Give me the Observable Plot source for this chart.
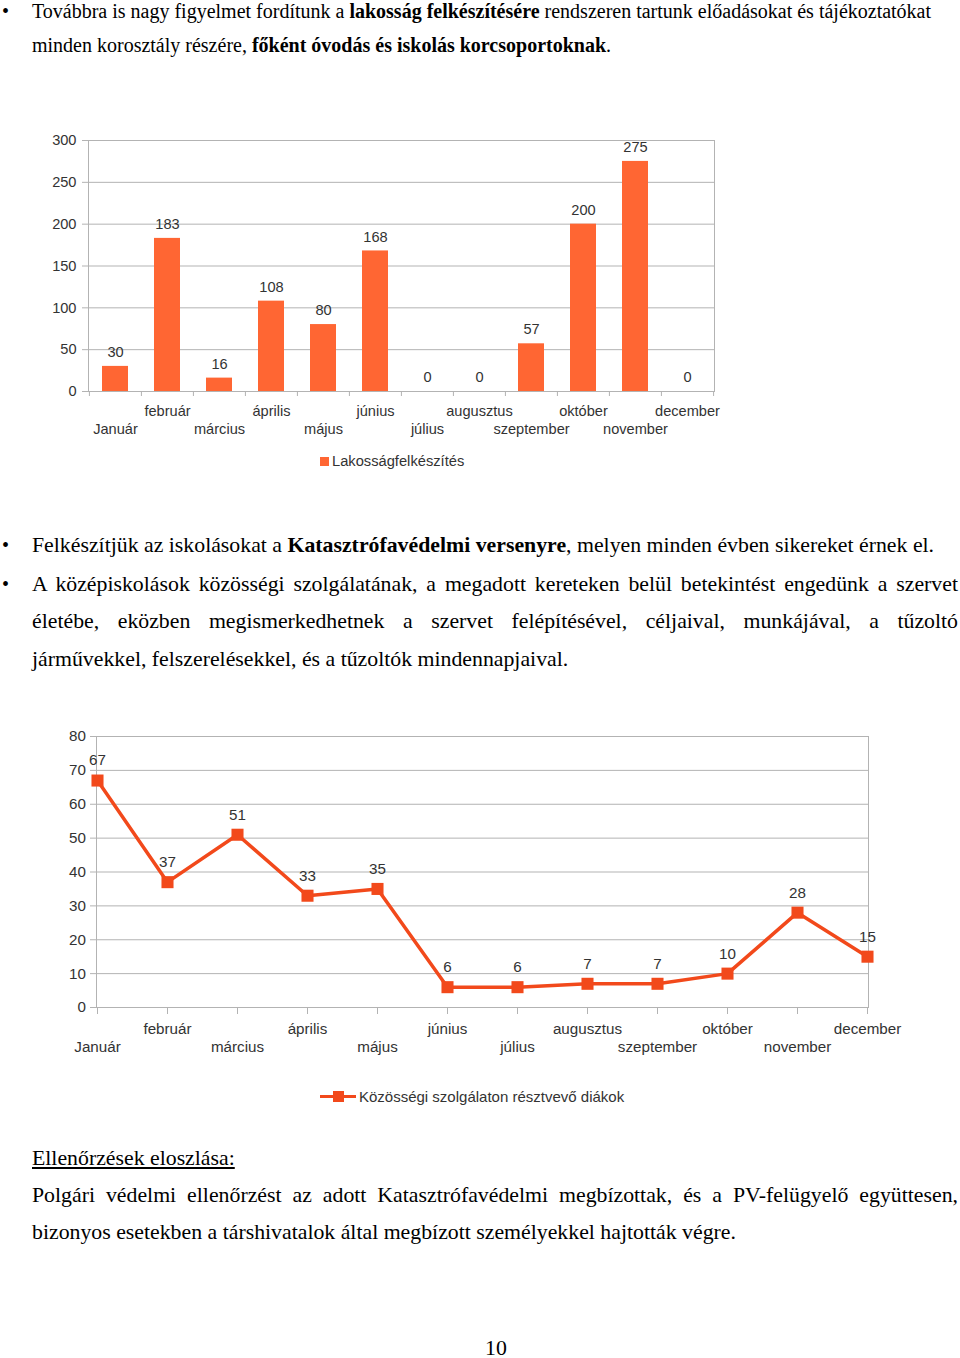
<!DOCTYPE html>
<html>
<head>
<meta charset="utf-8">
<script src="https://cdn.jsdelivr.net/npm/d3@7"></script>
<script src="https://cdn.jsdelivr.net/npm/@observablehq/plot@0.6"></script>
<style>
  html, body { margin: 0; padding: 0; background: #fff; }
  body { position: relative; width: 960px; height: 1358px; overflow: hidden; font-family: "Liberation Serif", "Times New Roman", serif; color: #000; }
  .ln { position: absolute; left: 32px; width: 926px; font-size: 20px; line-height: 22px; white-space: nowrap; }
  .big { font-size: 21.8px; }
  .just { text-align: justify; text-align-last: justify; white-space: normal; }
  .bul { position: absolute; left: 2px; font-size: 20px; line-height: 22px; }
  .chart { position: absolute; left: 0; }
  .legend { position: absolute; font-family: "Liberation Sans", Arial, sans-serif; color: #333; display: flex; align-items: center; white-space: nowrap; }
</style>
</head>
<body>
<div class="bul" style="top:0px">•</div>
<div class="ln" style="top:0px">Továbbra is nagy figyelmet fordítunk a <b>lakosság felkészítésére</b> rendszeren tartunk előadásokat és tájékoztatókat</div>
<div class="ln" style="top:34px">minden korosztály részére, <b>főként óvodás és iskolás korcsoportoknak</b>.</div>

<div id="chart1" class="chart" style="top:120px"></div>
<div id="legend1" class="legend" style="left:320px; top:453px; font-size:14.7px"></div>

<div class="bul" style="top:534px">•</div>
<div class="ln big" style="top:534px">Felkészítjük az iskolásokat a <b>Katasztrófavédelmi versenyre</b>, melyen minden évben sikereket érnek el.</div>
<div class="bul" style="top:573px">•</div>
<div class="ln big just" style="top:573px">A középiskolások közösségi szolgálatának, a megadott kereteken belül betekintést engedünk a szervet</div>
<div class="ln big just" style="top:610px">életébe, eközben megismerkedhetnek a szervet felépítésével, céljaival, munkájával, a tűzoltó</div>
<div class="ln big" style="top:648px">járművekkel, felszerelésekkel, és a tűzoltók mindennapjaival.</div>

<div id="chart2" class="chart" style="top:716px"></div>
<div id="legend2" class="legend" style="left:320px; top:1088px; font-size:15px"></div>

<div class="ln big" style="top:1147px"><u>Ellenőrzések eloszlása:</u></div>
<div class="ln big just" style="top:1184px">Polgári védelmi ellenőrzést az adott Katasztrófavédelmi megbízottak, és a PV-felügyelő együttesen,</div>
<div class="ln big" style="top:1221px">bizonyos esetekben a társhivatalok által megbízott személyekkel hajtották végre.</div>

<div class="ln big" style="top:1339px; left:485px; width:auto; line-height:18px">10</div>

<script>
// ---- data ----
const months = ["Január", "február", "március", "április", "május", "június", "július", "augusztus", "szeptember", "október", "november", "december"];
const prepValues = [30, 183, 16, 108, 80, 168, 0, 0, 57, 200, 275, 0];
const studentValues = [67, 37, 51, 33, 35, 6, 6, 7, 7, 10, 28, 15];
const barTicks = [0, 50, 100, 150, 200, 250, 300];
const lineTicks = [0, 10, 20, 30, 40, 50, 60, 70, 80];
const barSeriesName = "Lakosságfelkészítés";
const lineSeriesName = "Közösségi szolgálaton résztvevő diákok";

const upperRow = months.filter((d, i) => i % 2 === 1);
const lowerRow = months.filter((d, i) => i % 2 === 0);

const prepData = months.map((m, i) => ({month: m, value: prepValues[i]}));
const studentData = months.map((m, i) => ({month: m, value: studentValues[i]}));

const gridColor = "#b3b3b3";
const labelColor = "#333";
const barColor = "#ff6633";
const lineColor = "#f2491b";
const font1 = {fontFamily: "'Liberation Sans', Arial, sans-serif", fontSize: "14.6px", background: "transparent", overflow: "visible"};
const font2 = {fontFamily: "'Liberation Sans', Arial, sans-serif", fontSize: "15.2px", background: "transparent", overflow: "visible"};

// ---- chart 1: bars ----
const w1 = 760, mL1 = 88, mR1 = 46;
const step1 = (w1 - mL1 - mR1) / months.length;
const chart1 = Plot.plot({
  width: w1, height: 330,
  marginLeft: mL1, marginRight: mR1, marginTop: 20, marginBottom: 59,
  style: font1,
  x: {type: "band", domain: months, paddingInner: 0.5, paddingOuter: 0.25},
  y: {domain: [0, 300]},
  marks: [
    Plot.gridY(barTicks, {stroke: gridColor, strokeOpacity: 1}),
    Plot.frame({stroke: gridColor}),
    Plot.barY(prepData, {x: "month", y: "value", fill: barColor}),
    Plot.text(prepData, {x: "month", y: "value", text: d => String(d.value), dy: -14, fill: labelColor, fontSize: 14.6}),
    Plot.axisY({ticks: barTicks, tickSize: 6, tickPadding: 6, stroke: gridColor, fill: labelColor, label: null}),
    Plot.axisX({ticks: months, tickSize: 5, text: null, dx: -step1 / 2, stroke: gridColor, label: null}),
    Plot.axisX({ticks: ["december"], tickSize: 5, text: null, dx: step1 / 2, stroke: gridColor, label: null}),
    Plot.axisX({ticks: upperRow, tickSize: 0, tickPadding: 14, fill: labelColor, label: null}),
    Plot.axisX({ticks: lowerRow, tickSize: 0, tickPadding: 32.5, fill: labelColor, label: null})
  ]
});
document.getElementById("chart1").appendChild(chart1);

// ---- chart 2: line ----
const chart2 = Plot.plot({
  width: 960, height: 350,
  marginLeft: 96, marginRight: 92, marginTop: 20, marginBottom: 59,
  style: font2,
  x: {type: "point", domain: months, padding: 0},
  y: {domain: [0, 80]},
  marks: [
    Plot.gridY(lineTicks, {stroke: gridColor, strokeOpacity: 1}),
    Plot.frame({stroke: gridColor}),
    Plot.line(studentData, {x: "month", y: "value", stroke: lineColor, strokeWidth: 3.5}),
    Plot.dot(studentData, {x: "month", y: "value", symbol: "square", r: 6.8, fill: lineColor, stroke: "none"}),
    Plot.text(studentData, {x: "month", y: "value", text: d => String(d.value), dy: -20, fill: labelColor, fontSize: 15.2}),
    Plot.axisY({ticks: lineTicks, tickSize: 6, tickPadding: 4.5, stroke: gridColor, fill: labelColor, label: null}),
    Plot.axisX({ticks: months, tickSize: 7, text: null, stroke: gridColor, label: null}),
    Plot.axisX({ticks: upperRow, tickSize: 0, tickPadding: 16, fill: labelColor, label: null}),
    Plot.axisX({ticks: lowerRow, tickSize: 0, tickPadding: 33.5, fill: labelColor, label: null})
  ]
});
document.getElementById("chart2").appendChild(chart2);

// ---- legends (HTML swatches) ----
const l1 = document.getElementById("legend1");
l1.innerHTML = `<span style="display:inline-block;width:9px;height:9px;background:${barColor};margin-right:3px"></span><span>${barSeriesName}</span>`;
const l2 = document.getElementById("legend2");
l2.innerHTML = `<span style="position:relative;display:inline-block;width:36px;height:12px;margin-right:3px">
  <span style="position:absolute;left:0;top:4.5px;width:36px;height:3px;background:${lineColor}"></span>
  <span style="position:absolute;left:12.5px;top:0.5px;width:11px;height:11px;background:${lineColor}"></span></span><span>${lineSeriesName}</span>`;
</script>
</body>
</html>
